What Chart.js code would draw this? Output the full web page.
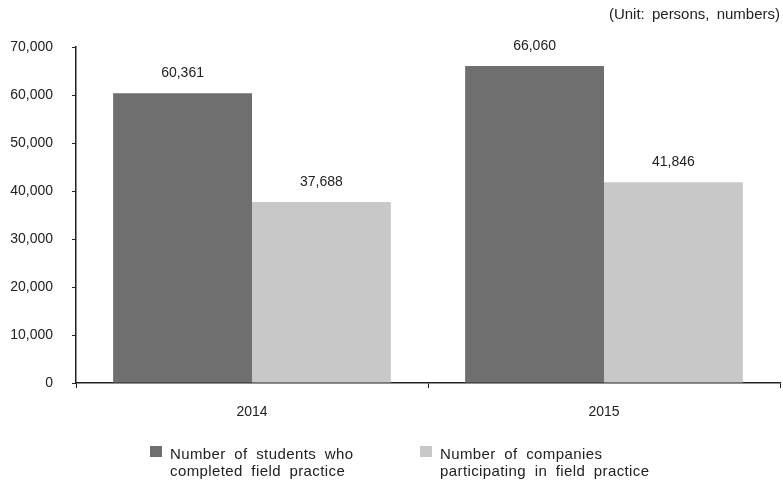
<!DOCTYPE html>
<html>
<head>
<meta charset="utf-8">
<script src="https://cdn.jsdelivr.net/npm/chart.js@4/dist/chart.umd.min.js"></script>
<style>
  body { margin: 0; background: #fff; }
  #wrap { position: relative; width: 783px; height: 481px; }
  #unit {
    position: absolute; right: 3px; top: 5px;
    font: 15px "Liberation Sans", Arial, sans-serif; color: #222; word-spacing: 3px;
  }
  .leg {
    position: absolute; top: 445px;
    font: 15px "Liberation Sans", Arial, sans-serif; color: #222;
    line-height: 17px; word-spacing: 4px; letter-spacing: 0.4px;
  }
  .leg i { position: absolute; left: -20px; top: 1px; width: 12px; height: 11px; }
</style>
</head>
<body>
<div id="wrap">
  <canvas id="grafico" width="783" height="481"></canvas>
  <div id="unit">(Unit: persons, numbers)</div>
  <div class="leg" style="left:170px"><i style="background:#6f6f6f"></i>Number of students who<br>completed field practice</div>
  <div class="leg" style="left:440px"><i style="background:#c8c8c8"></i>Number of companies<br>participating in field practice</div>
</div>
<script>
// Dados do gráfico
const anos = ['2014', '2015'];
const alunos = [60361, 66060];
const empresas = [37688, 41846];
const nomesSeries = ['Number of students who completed field practice', 'Number of companies participating in field practice'];

const fonte = '"Liberation Sans", Arial, sans-serif';

// Plugin simples para escrever o valor em cima de cada barra
const rotulosValor = {
    id: 'rotulosValor',
    afterDatasetsDraw(chart) {
        const ctx = chart.ctx;
        ctx.save();
        ctx.font = '14px ' + fonte;
        ctx.fillStyle = '#222';
        ctx.textAlign = 'center';
        ctx.textBaseline = 'middle';
        chart.data.datasets.forEach((ds, i) => {
            chart.getDatasetMeta(i).data.forEach((bar, j) => {
                ctx.fillText(ds.data[j].toLocaleString('en-US'), bar.x, bar.y - 20);
            });
        });
        ctx.restore();
    }
};

const config = {
    type: 'bar',
    data: {
        labels: anos,
        datasets: [
            { label: nomesSeries[0], data: alunos, backgroundColor: '#6f6f6f' },
            { label: nomesSeries[1], data: empresas, backgroundColor: '#c8c8c8' }
        ]
    },
    options: {
        responsive: false,
        animation: false,
        layout: { padding: { left: 0, right: 3, top: 47, bottom: 58 } },
        datasets: { bar: { categoryPercentage: 0.789, barPercentage: 1 } },
        plugins: { legend: { display: false }, tooltip: { enabled: false } },
        scales: {
            x: {
                grid: { display: true, drawOnChartArea: false, offset: true, tickLength: 5, color: '#222' },
                border: { color: '#222', width: 1.5 },
                ticks: { color: '#222', font: { size: 14, family: fonte }, padding: 16 },
                afterFit: scale => { scale.height = 40; }
            },
            y: {
                min: 0,
                max: 70000,
                grid: { drawOnChartArea: false, tickLength: 4, color: '#222' },
                border: { color: '#222', width: 1.5 },
                ticks: {
                    stepSize: 10000,
                    color: '#222',
                    font: { size: 14, family: fonte },
                    padding: 19,
                    callback: v => v.toLocaleString('en-US')
                },
                afterFit: scale => { scale.width = 76; }
            }
        }
    },
    plugins: [rotulosValor]
};

new Chart(document.getElementById('grafico'), config);
</script>
</body>
</html>
